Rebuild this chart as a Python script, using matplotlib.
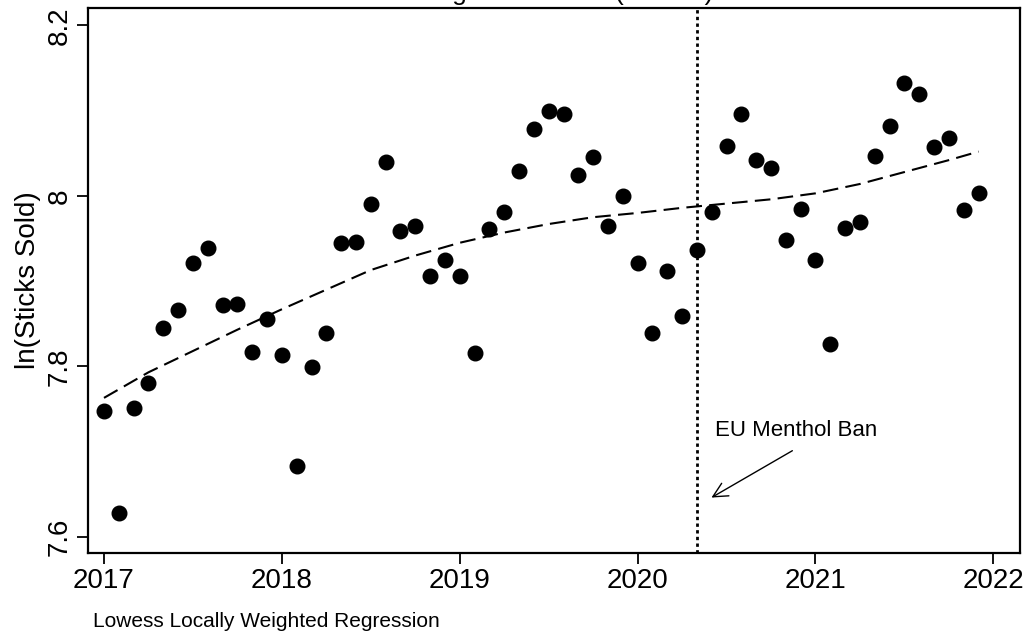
import matplotlib
matplotlib.use("Agg")
import matplotlib.pyplot as plt
import numpy as np

plt.rcParams["font.family"] = ["Liberation Sans", "DejaVu Sans"]

# monthly observations, Jan 2017 .. Dec 2021
start_year = 2017
ln_sticks = [
    7.748, 7.628, 7.751, 7.781, 7.845, 7.866, 7.921, 7.939, 7.872, 7.873, 7.817, 7.856,
    7.813, 7.683, 7.799, 7.839, 7.945, 7.946, 7.991, 8.040, 7.959, 7.965, 7.906, 7.925,
    7.906, 7.816, 7.961, 7.981, 8.029, 8.079, 8.100, 8.096, 8.025, 8.046, 7.965, 8.000,
    7.921, 7.839, 7.912, 7.859, 7.937, 7.981, 8.059, 8.096, 8.042, 8.033, 7.948, 7.985,
    7.925, 7.826, 7.962, 7.969, 8.047, 8.082, 8.133, 8.119, 8.057, 8.068, 7.984, 8.003,
]

# lowess fit
lowess_x = [2017.0, 2017.25, 2017.5, 2017.75, 2018.0, 2018.25, 2018.5, 2018.75,
            2019.0, 2019.25, 2019.5, 2019.75, 2020.0, 2020.25, 2020.5, 2020.75,
            2021.0, 2021.25, 2021.5, 2021.75, 2021.917]
lowess_y = [7.763, 7.793, 7.818, 7.843, 7.867, 7.890, 7.913, 7.930,
            7.945, 7.957, 7.967, 7.975, 7.980, 7.986, 7.991, 7.996,
            8.003, 8.014, 8.028, 8.042, 8.052]

ban_date = 2020 + 4 / 12
x_ticks = [2017, 2018, 2019, 2020, 2021, 2022]
y_ticks = [7.6, 7.8, 8.0, 8.2]
y_tick_labels = ["7.6", "7.8", "8", "8.2"]

months = start_year + np.arange(len(ln_sticks)) / 12

fig = plt.figure(figsize=(10.29, 6.34), dpi=100)
ax = fig.add_axes([0.0855, 0.1278, 0.9058, 0.8596])

ax.plot(months, ln_sticks, linestyle="none", marker="o", markersize=10.5,
        color="black", zorder=3)
ax.plot(lowess_x, lowess_y, color="black", linewidth=1.5,
        linestyle=(0, (7.5, 3.5)), zorder=2)
ax.axvline(ban_date, color="black", linewidth=2, linestyle=(0, (1.2, 1.2)), zorder=1)

ax.annotate("", xy=(2020.415, 7.646), xytext=(2020.87, 7.701),
            arrowprops=dict(arrowstyle="->", color="black", lw=1.0,
                            mutation_scale=26, shrinkA=0, shrinkB=0))
ax.text(2020.435, 7.725, "EU Menthol Ban", fontsize=16, ha="left", va="center")

ax.set_xlim(2016.91, 2022.15)
ax.set_ylim(7.581, 8.2205)
ax.set_xticks(x_ticks)
ax.set_xticklabels([str(t) for t in x_ticks], fontsize=20)
ax.set_yticks(y_ticks)
ax.set_yticklabels(y_tick_labels, fontsize=20, rotation=90, va="center")
ax.tick_params(direction="out", length=8, width=1.3, color="black", pad=3)
for side in ["left", "right", "top", "bottom"]:
    ax.spines[side].set_linewidth(1.6)

ax.set_ylabel("ln(Sticks Sold)", fontsize=20, labelpad=4)

fig.text(0.09, 0.02, "Lowess Locally Weighted Regression", fontsize=15, ha="left", va="center")
# title sits mostly above the canvas, only descenders show
fig.text(0.505, 1.0, "Menthol Cigarette Sales (Ireland)", fontsize=19, ha="center", va="baseline")

fig.savefig("out.png", dpi=100)
